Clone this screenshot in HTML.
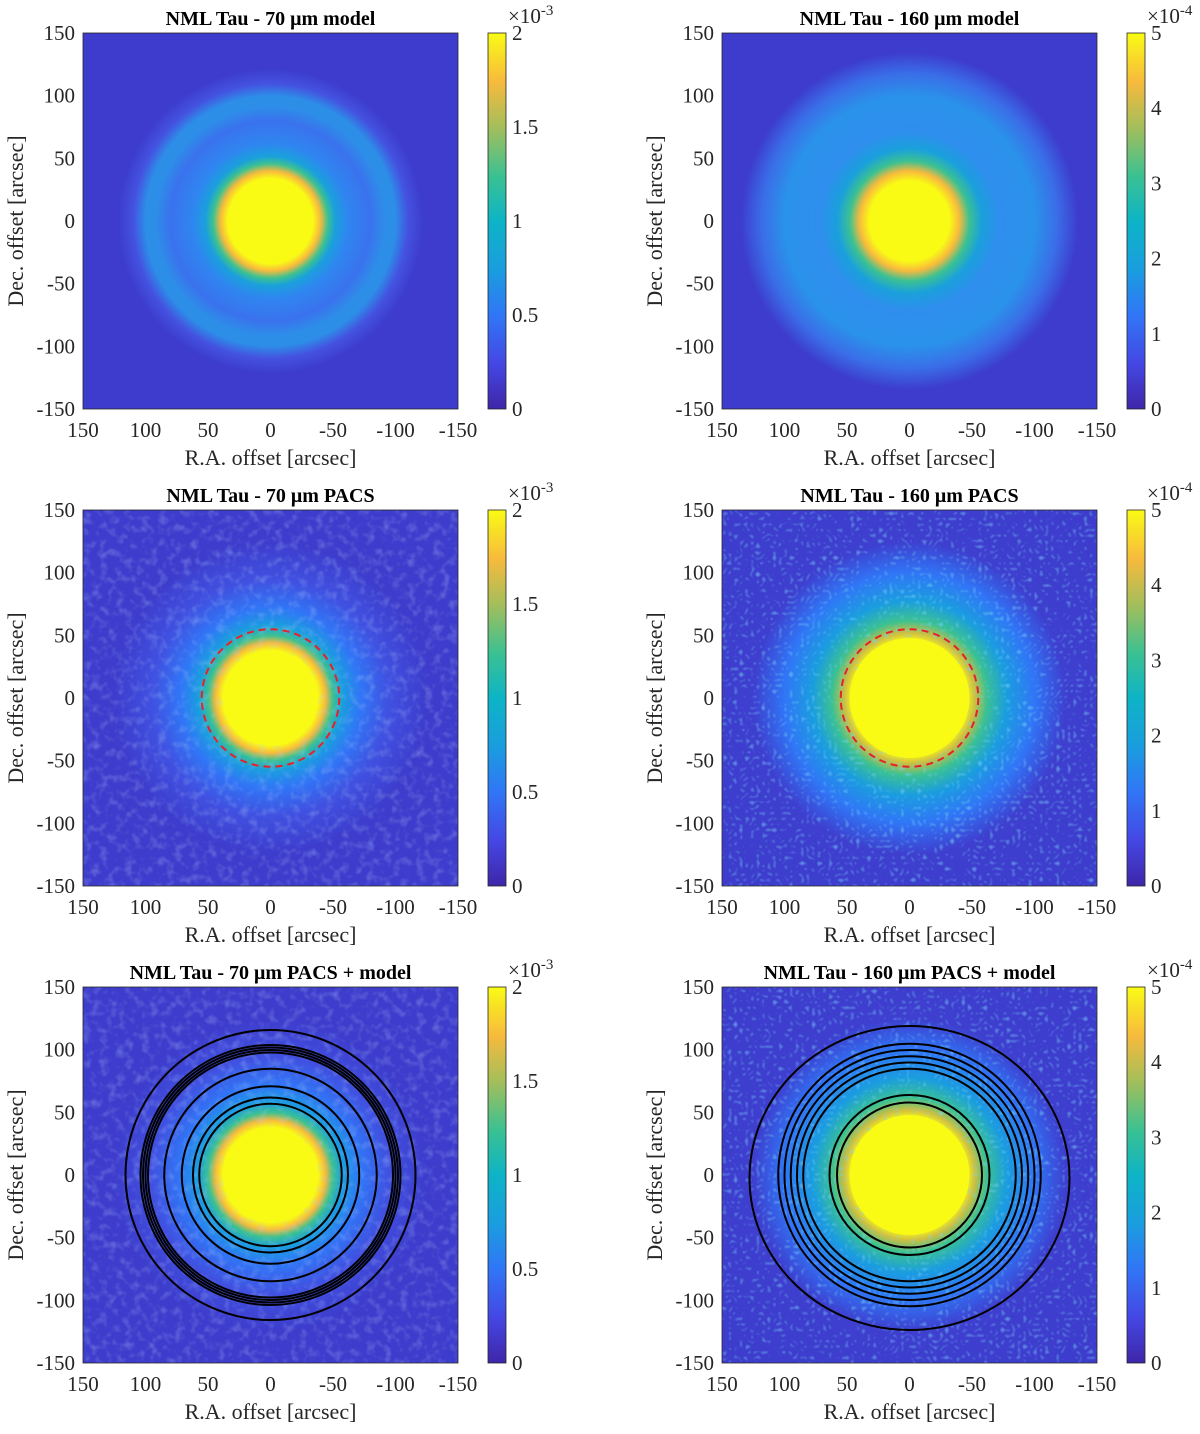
<!DOCTYPE html>
<html><head><meta charset="utf-8">
<style>
html,body{margin:0;padding:0;background:#fff;}
svg{display:block;font-family:"Liberation Serif",serif;}
</style></head>
<body>
<svg id="fig" width="1200" height="1434" viewBox="0 0 1200 1434" xmlns="http://www.w3.org/2000/svg">
<defs>
<linearGradient id="parula" x1="0" y1="1" x2="0" y2="0">
<stop offset="0" stop-color="#3e26a8"/><stop offset="0.12" stop-color="#4547e4"/>
<stop offset="0.25" stop-color="#3076f6"/><stop offset="0.37" stop-color="#1a9ddf"/>
<stop offset="0.5" stop-color="#0db4c6"/><stop offset="0.62" stop-color="#3bc192"/>
<stop offset="0.75" stop-color="#a5be5a"/><stop offset="0.87" stop-color="#f7ba3d"/>
<stop offset="1" stop-color="#f9fb15"/>
</linearGradient>
<filter id="noise70" x="0" y="0" width="100%" height="100%">
<feTurbulence type="fractalNoise" baseFrequency="0.12" numOctaves="2" seed="3"/>
<feColorMatrix type="matrix" values="0 0 0 0 0.45  0 0 0 0 0.6  0 0 0 0 1  0 0 0 1.6 -0.75"/>
</filter>
<filter id="noise160" x="0" y="0" width="100%" height="100%">
<feTurbulence type="turbulence" baseFrequency="0.18" numOctaves="1" seed="7"/>
<feColorMatrix type="matrix" values="0 0 0 0 0.2  0 0 0 0 0.65  0 0 0 0 0.95  0 0 0 2.2 -0.5"/>
</filter>
</defs>
</svg>
<script>
// ---- data ----
const axisTicks = [150, 100, 50, 0, -50, -100, -150];
const cbTicks70 = [0, 0.5, 1, 1.5, 2];
const cbTicks160 = [0, 1, 2, 3, 4, 5];
const titles = ["NML Tau - 70 μm model","NML Tau - 160 μm model","NML Tau - 70 μm PACS","NML Tau - 160 μm PACS","NML Tau - 70 μm PACS + model","NML Tau - 160 μm PACS + model"];
const dashedRadius = 55;
const contours70 = [57, 62, 71, 85, 98, 100, 102, 104, 116];
const contours160 = [58, 64, 85, 90, 95, 100, 105, 128];
const prof70model = [[0,"#f9fb15"],[34,"#f9fb15"],[40,"#f7ba3d"],[46,"#3bc192"],[52,"#1aa0dc"],[62,"#2f86f0"],[80,"#3a72ee"],[92,"#2d8ee8"],[100,"#2d8ee8"],[110,"#4452e0"],[122,"#3d3ccc"],[212,"#3d3ccc"]];
const prof160model = [[0,"#f9fb15"],[32,"#f9fb15"],[40,"#f7ba3d"],[48,"#3bc192"],[58,"#1aa0dc"],[72,"#2f8eee"],[100,"#2a92ea"],[118,"#3a6ee8"],[135,"#3d3ccc"],[212,"#3d3ccc"]];
const prof70pacs = [[0,"#f9fb15"],[38,"#f9fb15"],[44,"#f7ba3d"],[50,"#3bc192"],[58,"#1a9ddf"],[72,"#3076f6"],[95,"#4050e0"],[125,"#3d3ccc"],[212,"#3d3ccc"]];
const prof160pacs = [[0,"#f9fb15"],[45,"#f9fb15"],[52,"#d0c040"],[62,"#3bc192"],[78,"#1a9ddf"],[100,"#3076f6"],[125,"#3e3fcf"],[212,"#3d3ccc"]];

const svg = document.getElementById('fig');
const NS = "http://www.w3.org/2000/svg";
function mk(tag, attrs, parent){const e=document.createElementNS(NS,tag);for(const k in attrs)e.setAttribute(k,attrs[k]);(parent||svg).appendChild(e);return e;}

const W=375,H=376;
const lefts=[83,722], tops=[33,510,987];
const profiles=[prof70model,prof160model,prof70pacs,prof160pacs,prof70pacs,prof160pacs];

for(let i=0;i<6;i++){
  const col=i%2,row=Math.floor(i/2);
  const L=lefts[col],T=tops[row];
  const sx=v=>L+(150-v)/300*W;
  const sy=v=>T+(150-v)/300*H;
  const cx=sx(0),cy=sy(0),k=W/300;
  const g=mk('g',{});
  
  
  const gid='rg'+i;
  const defs=svg.querySelector('defs');
  const rg=mk('radialGradient',{id:gid,gradientUnits:'userSpaceOnUse',cx:cx,cy:cy,r:212*k},defs);
  profiles[i].forEach(s=>mk('stop',{offset:s[0]/212,'stop-color':s[1]},rg));
  const img=mk('rect',{x:L,y:T,width:W,height:H,fill:'url(#'+gid+')'},g);
  
  
  if(row>0){
    const nz=mk('rect',{x:L,y:T,width:W,height:H,filter:col?'url(#noise160)':'url(#noise70)',opacity:col?0.55:0.45},g);
    
    
    const core=mk('circle',{cx:cx,cy:cy,r:(col?48:38)*k,fill:'#f9fb15'},g);
    
    
  }
  if(row===1){
    const dc=mk('circle',{cx:cx,cy:cy,r:dashedRadius*k,fill:'none',stroke:'#e8202a','stroke-width':2,'stroke-dasharray':'7,5'},g);
    
    
  }
  if(row===2){
    (col?contours160:contours70).forEach(r=>{
      const c=mk('ellipse',{cx:cx,cy:cy+(col&&r>120?3:0),rx:r*k,ry:r*k*(col&&r>120?0.95:1),fill:'none',stroke:'#000','stroke-width':2},g);
      
      
    });
  }
  const fr=mk('rect',{x:L,y:T,width:W,height:H,fill:'none',stroke:'#262626','stroke-width':0.8},g);
  
  
  axisTicks.forEach(v=>{
    const tx=mk('text',{x:sx(v),y:T+H+28,'text-anchor':'middle','font-size':21,fill:'#262626'},g);
    tx.textContent=v;
    
    
    const ty=mk('text',{x:L-8,y:sy(v)+7,'text-anchor':'end','font-size':21,fill:'#262626'},g);
    ty.textContent=v;
    
    
  });
  const xt=mk('text',{x:L+W/2,y:T+H+56,'text-anchor':'middle','font-size':22,fill:'#262626'},g);
  xt.textContent='R.A. offset [arcsec]';
  
  
  const yt=mk('text',{x:0,y:0,'text-anchor':'middle','font-size':22,fill:'#262626',transform:`translate(${L-60},${T+H/2}) rotate(-90)`},g);
  yt.textContent='Dec. offset [arcsec]';
  
  
  const tt=mk('text',{x:L+W/2,y:T-8,'text-anchor':'middle','font-size':20,'font-weight':'bold',fill:'#000'},g);
  tt.textContent=titles[i];
  
  
  const CL=L+405,CW=18;
  const cb=mk('rect',{x:CL,y:T,width:CW,height:H,fill:'url(#parula)',stroke:'#262626','stroke-width':0.8},g);
  
  
  const ticks=col?cbTicks160:cbTicks70;
  const maxv=ticks[ticks.length-1];
  ticks.forEach(v=>{
    const y=T+H-(v/maxv)*H;
    const t=mk('text',{x:CL+CW+6,y:y+7,'font-size':21,fill:'#262626'},g);
    t.textContent=v;
    
    
  });
  const ex=mk('text',{x:CL+CW+2,y:T-10,'font-size':21,fill:'#262626'},g);
  ex.textContent='×10';
  
  
  const ts=mk('tspan',{dy:-8,'font-size':15},ex);
  ts.textContent=col?'-4':'-3';
}
</script>
</body></html>
